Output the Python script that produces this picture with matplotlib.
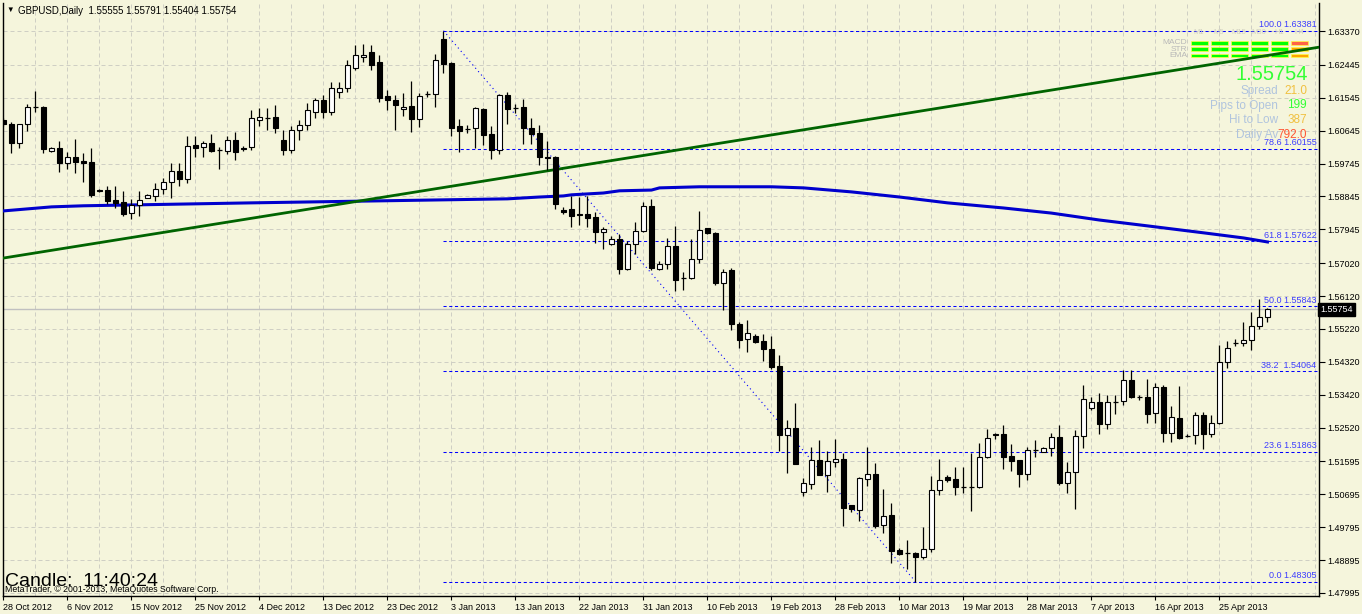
import matplotlib.pyplot as plt
from matplotlib.patches import Rectangle
from matplotlib.transforms import blended_transform_factory

plt.rcParams['font.family'] = ['Liberation Sans', 'DejaVu Sans']

BG = '#f5f5dc'

# daily GBPUSD bars, 28 Oct 2012 .. 1 May 2013 (Sunday bars included)
date_labels = ['28 Oct 2012', '6 Nov 2012', '15 Nov 2012', '25 Nov 2012', '4 Dec 2012',
               '13 Dec 2012', '23 Dec 2012', '3 Jan 2013', '13 Jan 2013', '22 Jan 2013',
               '31 Jan 2013', '10 Feb 2013', '19 Feb 2013', '28 Feb 2013', '10 Mar 2013',
               '19 Mar 2013', '28 Mar 2013', '7 Apr 2013', '16 Apr 2013', '25 Apr 2013']

opens = [1.6093, 1.6082, 1.6030, 1.6082, 1.6129, 1.6129, 1.6008, 1.6017, 1.5976, 1.5992,
         1.5981, 1.5978, 1.5902, 1.5902, 1.5875, 1.5870, 1.5839, 1.5861, 1.5880, 1.5886,
         1.5905, 1.5924, 1.5954, 1.5932, 1.6025, 1.6020, 1.6031, 1.6012, 1.6009, 1.6039,
         1.6017, 1.6020, 1.6093, 1.6099, 1.6101, 1.6039, 1.6012, 1.6066, 1.6080, 1.6115,
         1.6148, 1.6115, 1.6170, 1.6181, 1.6236, 1.6266, 1.6279, 1.6252, 1.6159, 1.6148,
         1.6123, 1.6132, 1.6096, 1.6164, 1.6164, 1.6315, 1.6249, 1.6077, 1.6069, 1.6071,
         1.6123, 1.6055, 1.6012, 1.6162, 1.6126, 1.6129, 1.6071, 1.6058, 1.5993, 1.5993,
         1.5848, 1.5850, 1.5837, 1.5837, 1.5828, 1.5787, 1.5754, 1.5768, 1.5686, 1.5754,
         1.5790, 1.5859, 1.5686, 1.5700, 1.5749, 1.5661, 1.5661, 1.5713, 1.5798, 1.5784,
         1.5648, 1.5683, 1.5535, 1.5494, 1.5503, 1.5489, 1.5467, 1.5420, 1.5232, 1.5251,
         1.5076, 1.5098, 1.5164, 1.5123, 1.5158, 1.5166, 1.5040, 1.5027, 1.5111, 1.5125,
         1.4986, 1.5013, 1.4917, 1.4909, 1.4909, 1.4898, 1.4920, 1.5081, 1.5117, 1.5111,
         1.5090, 1.5090, 1.5090, 1.5172, 1.5235, 1.5235, 1.5175, 1.5164, 1.5125, 1.5191,
         1.5186, 1.5197, 1.5227, 1.5101, 1.5131, 1.5229, 1.5306, 1.5323, 1.5262, 1.5323,
         1.5325, 1.5383, 1.5336, 1.5336, 1.5292, 1.5363, 1.5238, 1.5279, 1.5229, 1.5232,
         1.5287, 1.5235, 1.5265, 1.5432, 1.5484, 1.5484, 1.5492, 1.5530, 1.55555]

highs = [1.6099, 1.6088, 1.6082, 1.6137, 1.6173, 1.6132, 1.6019, 1.6036, 1.6006, 1.6041,
         1.6003, 1.6017, 1.5905, 1.5913, 1.5913, 1.5900, 1.5878, 1.5900, 1.5891, 1.5922,
         1.5935, 1.5976, 1.5976, 1.6050, 1.6050, 1.6036, 1.6055, 1.6020, 1.6050, 1.6061,
         1.6023, 1.6121, 1.6126, 1.6126, 1.6134, 1.6066, 1.6077, 1.6093, 1.6140, 1.6153,
         1.6162, 1.6197, 1.6197, 1.6257, 1.6298, 1.6301, 1.6298, 1.6271, 1.6175, 1.6162,
         1.6167, 1.6200, 1.6167, 1.6173, 1.6274, 1.63381, 1.6252, 1.6096, 1.6080, 1.6129,
         1.6126, 1.6077, 1.6164, 1.6170, 1.6137, 1.6151, 1.6099, 1.6080, 1.6036, 1.5995,
         1.5856, 1.5886, 1.5883, 1.5886, 1.5842, 1.5801, 1.5776, 1.5782, 1.5762, 1.5815,
         1.5870, 1.5878, 1.5708, 1.5771, 1.5804, 1.5678, 1.5768, 1.5845, 1.5798, 1.5787,
         1.5686, 1.5689, 1.5541, 1.5546, 1.5508, 1.5508, 1.5503, 1.5451, 1.5273, 1.5319,
         1.5114, 1.5199, 1.5218, 1.5188, 1.5221, 1.5183, 1.5040, 1.5117, 1.5199, 1.5155,
         1.5084, 1.5046, 1.4923, 1.4944, 1.4912, 1.4979, 1.5120, 1.5166, 1.5122, 1.5144,
         1.5144, 1.5183, 1.5210, 1.5248, 1.5238, 1.5259, 1.5207, 1.5164, 1.5199, 1.5218,
         1.5199, 1.5238, 1.5259, 1.5158, 1.5246, 1.5369, 1.5336, 1.5347, 1.5342, 1.5342,
         1.5410, 1.5410, 1.5342, 1.5385, 1.5374, 1.5369, 1.5312, 1.5366, 1.5235, 1.5295,
         1.5295, 1.5287, 1.5478, 1.5489, 1.5494, 1.5541, 1.5568, 1.5604, 1.55791]

lows = [1.6077, 1.6003, 1.6017, 1.6063, 1.6115, 1.6003, 1.6006, 1.5951, 1.5959, 1.5948,
        1.5924, 1.5883, 1.5897, 1.5864, 1.5853, 1.5831, 1.5823, 1.5831, 1.5879, 1.5872,
        1.5891, 1.5880, 1.5913, 1.5922, 1.5993, 1.5993, 1.6006, 1.5959, 1.6001, 1.5984,
        1.6009, 1.6012, 1.6077, 1.6066, 1.6058, 1.5998, 1.6003, 1.6039, 1.6066, 1.6099,
        1.6099, 1.6107, 1.6153, 1.6170, 1.6230, 1.6252, 1.6230, 1.6143, 1.6121, 1.6066,
        1.6104, 1.6061, 1.6074, 1.6156, 1.6129, 1.6222, 1.6050, 1.6006, 1.6058, 1.6017,
        1.6025, 1.5987, 1.6001, 1.6082, 1.6112, 1.6028, 1.6028, 1.5971, 1.5957, 1.5850,
        1.5837, 1.5801, 1.5807, 1.5801, 1.5757, 1.5740, 1.5751, 1.5672, 1.5683, 1.5727,
        1.5787, 1.5683, 1.5683, 1.5686, 1.5626, 1.5629, 1.5659, 1.5702, 1.5782, 1.5642,
        1.5574, 1.5519, 1.5470, 1.5459, 1.5484, 1.5434, 1.5412, 1.5188, 1.5128, 1.5153,
        1.5065, 1.5084, 1.5123, 1.5076, 1.5144, 1.4983, 1.5021, 1.4997, 1.5092, 1.4978,
        1.4964, 1.4882, 1.4904, 1.4866, 1.48305, 1.4893, 1.4912, 1.5068, 1.5103, 1.5068,
        1.5073, 1.5024, 1.5087, 1.5169, 1.5221, 1.5139, 1.5134, 1.5090, 1.5109, 1.5172,
        1.5186, 1.5175, 1.5095, 1.5073, 1.5029, 1.5197, 1.5301, 1.5235, 1.5249, 1.5290,
        1.5314, 1.5333, 1.5328, 1.5265, 1.5265, 1.5213, 1.5213, 1.5221, 1.5227, 1.5207,
        1.5194, 1.5227, 1.5262, 1.5415, 1.5476, 1.5476, 1.5464, 1.5522, 1.55404]

closes = [1.6082, 1.6030, 1.6082, 1.6129, 1.6129, 1.6014, 1.6017, 1.5976, 1.5992, 1.5978,
          1.5976, 1.5888, 1.5900, 1.5872, 1.5867, 1.5837, 1.5861, 1.5875, 1.5889, 1.5905,
          1.5924, 1.5954, 1.5932, 1.6023, 1.6017, 1.6031, 1.6009, 1.6012, 1.6039, 1.6006,
          1.6014, 1.6099, 1.6101, 1.6099, 1.6071, 1.6012, 1.6066, 1.6080, 1.6121, 1.6148,
          1.6115, 1.6181, 1.6181, 1.6244, 1.6271, 1.6271, 1.6244, 1.6153, 1.6148, 1.6134,
          1.6129, 1.6096, 1.6159, 1.6164, 1.6257, 1.6246, 1.6071, 1.6063, 1.6069, 1.6126,
          1.6052, 1.6012, 1.6162, 1.6123, 1.6126, 1.6071, 1.6055, 1.5993, 1.5990, 1.5864,
          1.5842, 1.5831, 1.5834, 1.5826, 1.5787, 1.5795, 1.5768, 1.5686, 1.5754, 1.5790,
          1.5859, 1.5689, 1.5700, 1.5749, 1.5656, 1.5661, 1.5713, 1.5793, 1.5784, 1.5648,
          1.5678, 1.5535, 1.5492, 1.5511, 1.5486, 1.5467, 1.5418, 1.5232, 1.5251, 1.5153,
          1.5101, 1.5164, 1.5123, 1.5161, 1.5166, 1.5032, 1.5029, 1.5114, 1.5125, 1.4983,
          1.5010, 1.4915, 1.4906, 1.4909, 1.4898, 1.4920, 1.5081, 1.5109, 1.5109, 1.5090,
          1.5090, 1.5090, 1.5172, 1.5224, 1.5232, 1.5172, 1.5161, 1.5125, 1.5191, 1.5191,
          1.5197, 1.5227, 1.5101, 1.5131, 1.5229, 1.5331, 1.5323, 1.5262, 1.5323, 1.5323,
          1.5383, 1.5336, 1.5336, 1.5290, 1.5363, 1.5238, 1.5281, 1.5224, 1.5229, 1.5287,
          1.5235, 1.5265, 1.5432, 1.5470, 1.5484, 1.5492, 1.5530, 1.5555, 1.55754]

# moving average (blue), read at a few bars
ma_idx = [0, 6, 10, 31, 63, 67, 70, 71, 75, 77, 81, 82, 87, 92, 96, 100, 106, 112, 118,
          125, 131, 137, 143, 150, 155, 158]
ma_val = [1.5845, 1.5856, 1.5859, 1.5867, 1.5878, 1.5883, 1.5886, 1.5889, 1.5894, 1.5900,
          1.5902, 1.5908, 1.5911, 1.5911, 1.5911, 1.5908, 1.5897, 1.5883, 1.5867, 1.5853,
          1.5839, 1.5820, 1.5804, 1.5785, 1.5771, 1.5760]

# green trend line anchors
trend_idx = [0, 165]
trend_val = [1.5716, 1.6295]

fib_levels = [1.63381, 1.60155, 1.57622, 1.55843, 1.54064, 1.51863, 1.48305]
fib_labels = ['100.0 1.63381', '78.6 1.60155', '61.8 1.57622', '50.0 1.55843',
              '38.2  1.54064', '23.6 1.51863', '0.0 1.48305']
fib_from, fib_to = 55, 114

ytick_vals = [1.63370, 1.62445, 1.61545, 1.60645, 1.59745, 1.58845, 1.57945, 1.57020,
              1.56120, 1.55220, 1.54320, 1.53420, 1.52520, 1.51595, 1.50695, 1.49795,
              1.48895, 1.47995]

last_price = 1.55754

W, H = 1362, 614
fig = plt.figure(figsize=(W / 100, H / 100), dpi=100, facecolor=BG)
L, R, T, B = 2.5, 1319, 3, 596
ax = fig.add_axes([L / W, 1 - B / H, (R - L) / W, (B - T) / H])
ax.set_facecolor(BG)
xmin, xmax = -0.125, 164.44
ax.set_xlim(xmin, xmax)
ax.set_ylim(1.4791, 1.6414)

# candles
n = len(opens)
for i in range(n):
    o, h, l, c = opens[i], highs[i], lows[i], closes[i]
    ax.vlines(i, l, h, color='black', lw=0.9, zorder=4)
    if abs(c - o) < 0.00015:
        ax.hlines(o, i - 0.3, i + 0.3, color='black', lw=0.9, zorder=5)
    else:
        face = 'white' if c > o else 'black'
        ax.bar(i, abs(c - o), bottom=min(o, c), width=0.6, color=face,
               edgecolor='black', linewidth=0.8, zorder=5)

# indicators
ax.plot(ma_idx, ma_val, color='#0000cd', lw=2.2, zorder=3)
ax.plot(trend_idx, trend_val, color='#006400', lw=2.0, zorder=3)
ax.axhline(last_price, color='#c0c0c0', lw=1, zorder=2)

for lev, lab in zip(fib_levels, fib_labels):
    ax.plot([fib_from, xmax], [lev, lev], color='#0000ff', lw=0.75,
            linestyle=(0, (3, 2.5)), zorder=2.5)
    ax.text(0.998, lev + 0.0004, lab, transform=blended_transform_factory(ax.transAxes, ax.transData),
            ha='right', va='bottom', fontsize=6.5, color='#3c3cff', zorder=6)
ax.plot([fib_from, fib_to], [fib_levels[0], fib_levels[-1]], color='#0000ff', lw=0.8,
        linestyle=(0, (1, 3)), zorder=2.5)

# axes / ticks
ax.set_xticks(range(0, n, 8))
ax.set_xticklabels(date_labels, ha='left', fontsize=6.5)
ax.set_xticks(range(4, 165, 8), minor=True)
ax.tick_params(axis='x', which='major', length=3, pad=2, width=0.8)
ax.tick_params(axis='x', which='minor', length=0)
ax.yaxis.tick_right()
ax.set_yticks(ytick_vals)
ax.set_yticklabels(['%.5f' % v for v in ytick_vals], fontsize=6.5)
ax.tick_params(axis='y', length=4, pad=2, width=0.8)
ax.grid(True, which='both', color='#cfcfc4', lw=0.72, linestyle=(0, (4, 3)), zorder=0)
for s in ['left', 'bottom', 'right']:
    ax.spines[s].set_color('black')
    ax.spines[s].set_linewidth(1)
ax.spines['top'].set_visible(False)

ax.text(1.0008, last_price, '1.55754', transform=blended_transform_factory(ax.transAxes, ax.transData),
        ha='left', va='center', fontsize=6.5, color='white', zorder=7, clip_on=False,
        bbox=dict(boxstyle='square,pad=0.25', fc='black', ec='black'))


def px(x, y):
    return x / W, 1 - y / H


# header
fig.text(*px(6, 10.5), '\u25bc', fontsize=5.5, va='center', ha='left')
fig.text(*px(18, 10.5), 'GBPUSD,Daily  1.55555 1.55791 1.55404 1.55754', fontsize=7,
         va='center', ha='left')

# trend panel top right (blocks sit under the trend line, as in the terminal)
tf = ['M1', 'M5', 'M15', 'M30', 'H1', 'H4']
rows = ['MACD', 'STR', 'EMA']
col_x = [1191, 1211, 1231, 1251, 1271, 1291]
row_y = [41, 47.3, 53.7]
cell_col = [['#00ff00'] * 5 + ['#ff6347'],
            ['#00ff00'] * 5 + ['#ffa500'],
            ['#00ff00'] * 5 + ['#ffa500']]
for j, t in enumerate(tf):
    fig.text(*px(col_x[j] + 8, 32), t, fontsize=5.5, color='#d2d2c2', ha='center', va='center')
for r, name in enumerate(rows):
    fig.text(*px(1187, row_y[r] + 2), name, fontsize=6, color='#b8b8b8', ha='right', va='center')
    for j in range(6):
        x0, y0 = px(col_x[j], row_y[r] + 3.7)
        ax.add_patch(Rectangle((x0, y0), 16.5 / W, 3.7 / H, transform=fig.transFigure,
                               fc=cell_col[r][j], ec='#ffff40', lw=0.5, zorder=2.8))

fig.text(*px(1308, 75), '1.55754', fontsize=14.5, color='#33ff33', ha='right', va='center', zorder=9)
info = [('Spread', '21.0', '#f0c040', 91),
        ('Pips to Open', '199', '#33ff33', 105.5),
        ('Hi to Low', '387', '#f0c040', 120),
        ('Daily Av', '792.0', '#ff5533', 135)]
for lab, val, colr, yy in info:
    fig.text(*px(1278, yy), lab, fontsize=8.5, color='#b0c4de', ha='right', va='center', zorder=9)
    fig.text(*px(1307, yy), val, fontsize=8.5, color=colr, ha='right', va='center', zorder=10)

# bottom left
fig.text(*px(5, 582), 'Candle:  11:40:24', fontsize=14, color='black', ha='left', va='center', zorder=9)
fig.text(*px(5, 589), 'MetaTrader, \u00a9 2001-2013, MetaQuotes Software Corp.', fontsize=6.3,
         color='black', ha='left', va='center', zorder=9)

fig.savefig('out.png', dpi=100, facecolor=BG)
